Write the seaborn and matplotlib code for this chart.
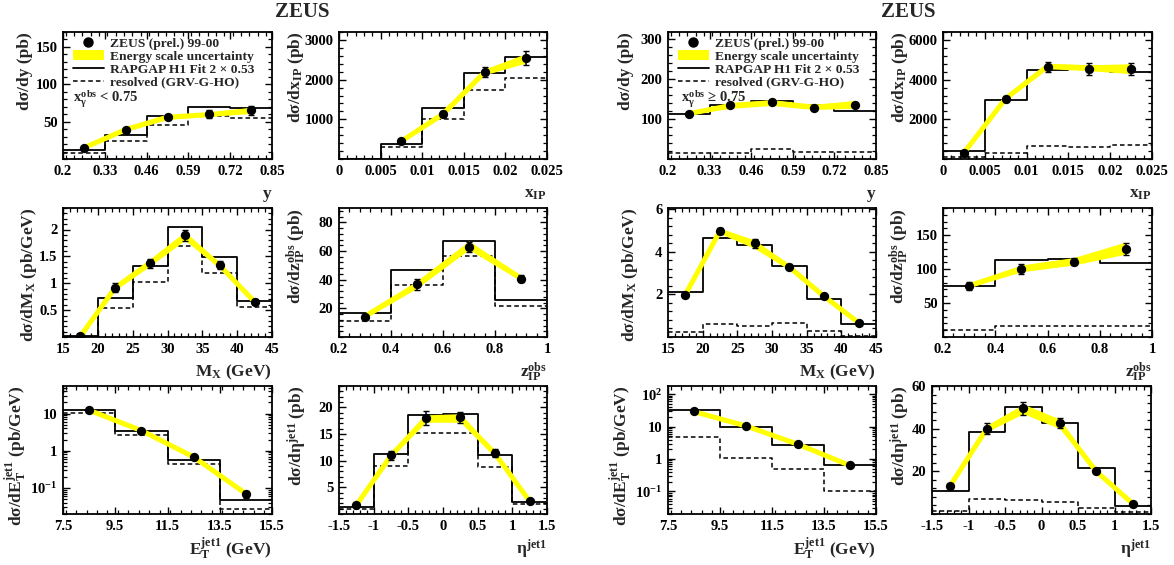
import matplotlib
matplotlib.use("Agg")
import matplotlib.pyplot as plt
import seaborn as sns
import numpy as np
import pandas as pd
from matplotlib.lines import Line2D
from matplotlib.patches import Patch
from matplotlib.ticker import MultipleLocator, FixedLocator, LogLocator, NullFormatter

# ---------------- data ----------------
y_edges = [0.2, 0.33, 0.46, 0.59, 0.72, 0.85]
xip_edges = [0.0, 0.005, 0.01, 0.015, 0.02, 0.025]
mx_edges = [15, 20, 25, 30, 35, 40, 45]
zip_edges = [0.2, 0.4, 0.6, 0.8, 1.0]
et_edges = [7.5, 9.5, 11.5, 13.5, 15.5]
eta_edges = [-1.5, -1.0, -0.5, 0.0, 0.5, 1.0, 1.5]

y_pts_x = [0.265, 0.395, 0.525, 0.655, 0.785]
xip_pts_x_lo = [0.0075, 0.0125, 0.0175, 0.0225]
xip_pts_x_hi = [0.0025, 0.0075, 0.0125, 0.0175, 0.0225]
mx_pts_x = [17.5, 22.5, 27.5, 32.5, 37.5, 42.5]
zip_pts_x = [0.3, 0.5, 0.7, 0.9]
et_pts_x = [8.5, 10.5, 12.5, 14.5]
eta_pts_x = [-1.25, -0.75, -0.25, 0.25, 0.75, 1.25]

# x_gamma^obs < 0.75
lo_y_val = [15, 39, 56, 60, 65]
lo_y_err = [1.5, 2.5, 3, 5, 6]
lo_y_blo = [13, 37, 53, 57, 61]
lo_y_bhi = [17, 42, 59, 62, 69]
lo_y_rap = [11.4, 32, 57, 70, 68]
lo_y_res = [8, 24.5, 46, 58, 55]

lo_xip_val = [455, 1140, 2190, 2545]
lo_xip_err = [40, 70, 120, 180]
lo_xip_blo = [420, 1070, 2120, 2420]
lo_xip_bhi = [480, 1200, 2260, 2660]
lo_xip_rap = [0, 372, 1273, 2174, 2562]
lo_xip_res = [0, 306, 1017, 1744, 2041]

lo_mx_val = [0.01, 0.92, 1.37, 1.89, 1.34, 0.66]
lo_mx_err = [0.01, 0.08, 0.09, 0.10, 0.07, 0.05]
lo_mx_blo = [0.0, 0.87, 1.32, 1.80, 1.28, 0.61]
lo_mx_bhi = [0.03, 0.97, 1.44, 1.96, 1.38, 0.70]
lo_mx_rap = [0.01, 0.72, 1.32, 2.04, 1.49, 0.67]
lo_mx_res = [0.0, 0.54, 1.02, 1.70, 1.20, 0.55]

lo_zip_val = [14, 36.7, 63, 40.6]
lo_zip_err = [1, 4, 3.5, 2.5]
lo_zip_blo = [13, 34, 61, 39]
lo_zip_bhi = [16, 39, 67, 43]
lo_zip_rap = [16.6, 46.7, 67, 26]
lo_zip_res = [11, 36, 56.8, 21.5]

lo_et_val = [12.3, 3.5, 0.68, 0.0705]
lo_et_err = [0.5, 0.2, 0.04, 0.015]
lo_et_blo = [11.5, 3.3, 0.64, 0.066]
lo_et_bhi = [13.0, 3.7, 0.72, 0.075]
lo_et_rap = [12.6, 3.34, 0.575, 0.0464]
lo_et_res = [10.2, 2.73, 0.45, 0.0267]

lo_eta_val = [1.6, 11.0, 18.0, 18.1, 11.4, 2.4]
lo_eta_err = [0.2, 0.9, 1.3, 1.0, 0.7, 0.2]
lo_eta_blo = [1.5, 10.5, 17.2, 17.2, 10.7, 2.3]
lo_eta_bhi = [1.8, 11.4, 18.6, 18.8, 11.9, 2.5]
lo_eta_rap = [1.4, 11.25, 18.6, 18.75, 11.0, 2.2]
lo_eta_res = [0.94, 9.0, 15.1, 15.1, 8.8, 1.8]

# x_gamma^obs >= 0.75
hi_y_val = [113, 134, 142, 127, 136]
hi_y_err = [5, 5, 5, 5, 5]
hi_y_blo = [111, 127, 134, 124, 127]
hi_y_bhi = [116, 141, 148, 136, 147]
hi_y_rap = [112, 135, 145, 134, 121]
hi_y_res = [16, 16, 25, 17, 17]

hi_xip_val = [317, 3033, 4650, 4533, 4533]
hi_xip_err = [80, 150, 250, 280, 300]
hi_xip_blo = [290, 2950, 4550, 4450, 4300]
hi_xip_bhi = [340, 3150, 4800, 4750, 4800]
hi_xip_rap = [383, 2967, 4467, 4583, 4367]
hi_xip_res = [83, 317, 667, 617, 717]

hi_mx_val = [1.96, 4.97, 4.39, 3.29, 1.91, 0.67]
hi_mx_err = [0.05, 0.15, 0.20, 0.12, 0.08, 0.05]
hi_mx_blo = [1.92, 4.85, 4.15, 3.15, 1.80, 0.62]
hi_mx_bhi = [2.05, 5.10, 4.55, 3.40, 2.02, 0.72]
hi_mx_rap = [2.09, 4.66, 4.31, 3.34, 1.80, 0.60]
hi_mx_res = [0.24, 0.60, 0.52, 0.66, 0.27, 0.05]

hi_zip_val = [75.4, 100, 111, 130]
hi_zip_err = [6, 7, 5, 9]
hi_zip_blo = [73, 96, 106, 122]
hi_zip_bhi = [78, 106, 117, 140]
hi_zip_rap = [75, 113.5, 115, 109]
hi_zip_res = [10, 16, 16, 16]

hi_et_val = [29.4, 10.5, 2.87, 0.634]
hi_et_err = [1.0, 0.4, 0.1, 0.03]
hi_et_blo = [27.5, 9.8, 2.65, 0.58]
hi_et_bhi = [30.5, 11.2, 3.05, 0.68]
hi_et_rap = [31.6, 10.0, 2.67, 0.65]
hi_et_res = [4.75, 1.1, 0.49, 0.105]

hi_eta_val = [13.2, 40, 49.6, 42.6, 20, 4.8]
hi_eta_err = [1, 2.5, 3, 2.5, 1, 0.4]
hi_eta_blo = [12.8, 38.5, 47, 40, 19.3, 4.5]
hi_eta_bhi = [13.8, 41.5, 51.5, 44.5, 20.7, 5.1]
hi_eta_rap = [10.9, 38.3, 50.1, 42.5, 21.5, 3.9]
hi_eta_res = [1.6, 7.0, 6.5, 5.4, 2.8, 0.8]

legend_labels = ["ZEUS (prel.) 99-00", "Energy scale uncertainty",
                 "RAPGAP H1 Fit 2 \u00d7 0.53", "resolved (GRV-G-HO)"]
cut_labels = ["$x_{\\gamma}^{obs}$ < 0.75", "$x_{\\gamma}^{obs}$ \u2265 0.75"]

# ---------------- style ----------------
sns.set_theme(style="ticks")
plt.rcParams["font.family"] = ["Liberation Serif", "DejaVu Serif"]
plt.rcParams["font.weight"] = "bold"
plt.rcParams["axes.labelweight"] = "bold"
plt.rcParams["mathtext.fontset"] = "custom"
plt.rcParams["mathtext.rm"] = "Liberation Serif:bold"
plt.rcParams["mathtext.it"] = "Liberation Serif:bold"
plt.rcParams["mathtext.bf"] = "Liberation Serif:bold"
plt.rcParams["axes.linewidth"] = 1.3
plt.rcParams["axes.edgecolor"] = "black"

W, H = 1174, 565
fig = plt.figure(figsize=(W / 100, H / 100), dpi=100)
fig.patch.set_facecolor("white")

TICK_FS = 10.5
LAB_FS = 12.5
YELLOW = "#ffff00"


def make_ax(l, t, r, b):
    return fig.add_axes([l / W, 1 - b / H, (r - l) / W, (b - t) / H])


def panel(ax, edges, px, val, err, blo, bhi, rap, res, xlim, ylim,
          xmaj, xmin_step, ymaj, ymin_step, xlabel, ylabel, ylab_off,
          log=False, ylabels_txt=None):
    wpx = ax.get_position().width * W
    df_r = pd.DataFrame({"x": edges, "y": list(rap) + [rap[-1]]})
    df_s = pd.DataFrame({"x": edges, "y": list(res) + [res[-1]]})
    sns.lineplot(data=df_s, x="x", y="y", ax=ax, color="black", lw=1.1,
                 drawstyle="steps-post", linestyle=(0, (3, 2)),
                 estimator=None, sort=False, zorder=2)
    sns.lineplot(data=df_r, x="x", y="y", ax=ax, color="black", lw=1.3,
                 drawstyle="steps-post", estimator=None, sort=False, zorder=2)
    ax.fill_between(px, blo, bhi, color=YELLOW, lw=0, zorder=3)
    mid = pd.DataFrame({"x": px, "y": [(a + b) / 2 for a, b in zip(blo, bhi)]})
    sns.lineplot(data=mid, x="x", y="y", ax=ax, color=YELLOW, lw=3.6,
                 estimator=None, sort=False, zorder=3, solid_capstyle="butt")
    ax.errorbar(px, val, yerr=err, fmt="none", ecolor="black", elinewidth=1.1,
                capsize=2, capthick=1.0, zorder=4)
    sns.scatterplot(x=px, y=val, ax=ax, color="black", s=45, edgecolor="black",
                    linewidth=0, zorder=5)
    if log:
        ax.set_yscale("log")
    ax.set_xlim(*xlim)
    ax.set_ylim(*ylim)
    ax.set_xticks(xmaj)
    ax.set_xticklabels([("%g" % v) for v in xmaj])
    ax.xaxis.set_minor_locator(MultipleLocator(xmin_step))
    if log:
        ax.yaxis.set_major_locator(FixedLocator(ymaj))
        ax.set_yticklabels(ylabels_txt)
        ax.yaxis.set_minor_locator(LogLocator(base=10, subs=np.arange(2, 10)))
        ax.yaxis.set_minor_formatter(NullFormatter())
    else:
        ax.set_yticks(ymaj)
        ax.set_yticklabels([("%g" % v) for v in ymaj])
        ax.yaxis.set_minor_locator(MultipleLocator(ymin_step))
    ax.tick_params(which="both", direction="in", top=True, right=True,
                   labelsize=TICK_FS, colors="black", pad=4)
    ax.tick_params(which="major", length=5, width=1.0)
    ax.tick_params(which="minor", length=2.6, width=0.9)
    for lab in ax.get_xticklabels() + ax.get_yticklabels():
        lab.set_fontweight("bold")
    ax.set_xlabel(xlabel, fontsize=LAB_FS, fontweight="bold", loc="right")
    ax.xaxis.set_label_coords(1.0, -0.275)
    ax.xaxis.label.set_va("center")
    ax.set_ylabel(ylabel, fontsize=LAB_FS, fontweight="bold", loc="top")
    ax.yaxis.set_label_coords(-ylab_off / wpx, 1.0)
    ax.yaxis.label.set_va("center")
    for s in ax.spines.values():
        s.set_visible(True)
        s.set_linewidth(1.3)


cols = {"A": (63, 272), "B": (339, 547), "C": (668, 876), "D": (943, 1152), "D3": (932, 1151)}
rows = {1: (32, 159), 2: (208, 337), 3: (386, 514)}

y_ticks = [0.2, 0.33, 0.46, 0.59, 0.72, 0.85]
xip_ticks = [0, 0.005, 0.01, 0.015, 0.02, 0.025]
mx_ticks = [15, 20, 25, 30, 35, 40, 45]
zip_ticks = [0.2, 0.4, 0.6, 0.8, 1.0]
et_ticks = [7.5, 9.5, 11.5, 13.5, 15.5]
eta_ticks = [-1.5, -1, -0.5, 0, 0.5, 1, 1.5]

lab_y = "y"
lab_xip = r"x$_{IP}$"
lab_mx = r"M$_{X}$ (GeV)"
lab_zip = r"z$_{IP}^{obs}$"
lab_et = r"E$_{T}^{jet1}$ (GeV)"
lab_eta = r"η$^{jet1}$"

yl_y = "dσ/dy (pb)"
yl_xip = r"dσ/dx$_{IP}$ (pb)"
yl_mx = r"dσ/dM$_{X}$ (pb/GeV)"
yl_zip = r"dσ/dz$_{IP}^{obs}$ (pb)"
yl_et = r"dσ/dE$_{T}^{jet1}$ (pb/GeV)"
yl_eta = r"dσ/dη$^{jet1}$ (pb)"


def pos(c, r):
    return make_ax(cols[c][0], rows[r][0], cols[c][1], rows[r][1])


# ---- low x_gamma group ----
a1 = pos("A", 1)
panel(a1, y_edges, y_pts_x, lo_y_val, lo_y_err, lo_y_blo, lo_y_bhi, lo_y_rap, lo_y_res,
      (0.2, 0.85), (0, 170), y_ticks, 0.026, [50, 100, 150], 10, lab_y, yl_y, 38)
a2 = pos("B", 1)
panel(a2, xip_edges, xip_pts_x_lo, lo_xip_val, lo_xip_err, lo_xip_blo, lo_xip_bhi,
      lo_xip_rap, lo_xip_res, (0, 0.025), (0, 3200), xip_ticks, 0.001,
      [1000, 2000, 3000], 200, lab_xip, yl_xip, 43)
a3 = pos("A", 2)
panel(a3, mx_edges, mx_pts_x, lo_mx_val, lo_mx_err, lo_mx_blo, lo_mx_bhi, lo_mx_rap,
      lo_mx_res, (15, 45), (0, 2.4), mx_ticks, 1, [0.5, 1, 1.5, 2], 0.1, lab_mx, yl_mx, 34)
a4 = pos("B", 2)
panel(a4, zip_edges, zip_pts_x, lo_zip_val, lo_zip_err, lo_zip_blo, lo_zip_bhi,
      lo_zip_rap, lo_zip_res, (0.2, 1.0), (0, 90), zip_ticks, 0.04,
      [20, 40, 60, 80], 4, lab_zip, yl_zip, 43)
a5 = pos("A", 3)
panel(a5, et_edges, et_pts_x, lo_et_val, lo_et_err, lo_et_blo, lo_et_bhi, lo_et_rap,
      lo_et_res, (7.5, 15.5), (0.02, 55), et_ticks, 0.4, [0.1, 1, 10], None,
      lab_et, yl_et, 47, log=True, ylabels_txt=[r"$10^{-1}$", "1", "10"])
a6 = pos("B", 3)
panel(a6, eta_edges, eta_pts_x, lo_eta_val, lo_eta_err, lo_eta_blo, lo_eta_bhi,
      lo_eta_rap, lo_eta_res, (-1.5, 1.5), (0, 24), eta_ticks, 0.1,
      [5, 10, 15, 20], 1, lab_eta, yl_eta, 42)

# ---- high x_gamma group ----
b1 = pos("C", 1)
panel(b1, y_edges, y_pts_x, hi_y_val, hi_y_err, hi_y_blo, hi_y_bhi, hi_y_rap, hi_y_res,
      (0.2, 0.85), (0, 318), y_ticks, 0.026, [100, 200, 300], 20, lab_y, yl_y, 42)
b2 = pos("D", 1)
panel(b2, xip_edges, xip_pts_x_hi, hi_xip_val, hi_xip_err, hi_xip_blo, hi_xip_bhi,
      hi_xip_rap, hi_xip_res, (0, 0.025), (0, 6400), xip_ticks, 0.001,
      [2000, 4000, 6000], 400, lab_xip, yl_xip, 43)
b3 = pos("C", 2)
panel(b3, mx_edges, mx_pts_x, hi_mx_val, hi_mx_err, hi_mx_blo, hi_mx_bhi, hi_mx_rap,
      hi_mx_res, (15, 45), (0, 6.05), mx_ticks, 1, [2, 4, 6], 0.4, lab_mx, yl_mx, 38)
b4 = pos("D", 2)
panel(b4, zip_edges, zip_pts_x, hi_zip_val, hi_zip_err, hi_zip_blo, hi_zip_bhi,
      hi_zip_rap, hi_zip_res, (0.2, 1.0), (0, 190), zip_ticks, 0.04,
      [50, 100, 150], 10, lab_zip, yl_zip, 44)
b5 = pos("C", 3)
panel(b5, et_edges, et_pts_x, hi_et_val, hi_et_err, hi_et_blo, hi_et_bhi, hi_et_rap,
      hi_et_res, (7.5, 15.5), (0.02, 180), et_ticks, 0.4, [0.1, 1, 10, 100], None,
      lab_et, yl_et, 47, log=True, ylabels_txt=[r"$10^{-1}$", "1", "10", r"$10^{2}$"])
b6 = make_ax(cols["D3"][0], rows[3][0], cols["D3"][1], rows[3][1])
panel(b6, eta_edges, eta_pts_x, hi_eta_val, hi_eta_err, hi_eta_blo, hi_eta_bhi,
      hi_eta_rap, hi_eta_res, (-1.5, 1.5), (0, 60), eta_ticks, 0.1,
      [20, 40, 60], 4, lab_eta, yl_eta, 32)

# ---- legends & annotations ----
handles = [Line2D([], [], marker="o", ls="none", color="black", markersize=6.5),
           Patch(facecolor=YELLOW, edgecolor="none"),
           Line2D([], [], color="black", lw=1.3),
           Line2D([], [], color="black", lw=1.1, ls=(0, (3, 2)))]
for ax, cut, cx in [(a1, cut_labels[0], 0.048), (b1, cut_labels[1], 0.062)]:
    ax.legend(handles, legend_labels, loc="upper left", bbox_to_anchor=(0.02, 1.0),
              frameon=False, handlelength=2.3, handletextpad=0.5,
              labelspacing=0.04, borderpad=0.3, borderaxespad=0.1,
              prop={"weight": "bold", "size": 9.7})
    ax.text(cx, 0.47, cut, transform=ax.transAxes, fontsize=10.5, fontweight="bold",
            ha="left", va="center", zorder=6)

fig.text(302 / W, 1 - 12 / H, "ZEUS", fontsize=15, fontweight="bold", ha="center", va="center")
fig.text(908 / W, 1 - 12 / H, "ZEUS", fontsize=15, fontweight="bold", ha="center", va="center")

fig.savefig("out.png", dpi=100, facecolor="white")
